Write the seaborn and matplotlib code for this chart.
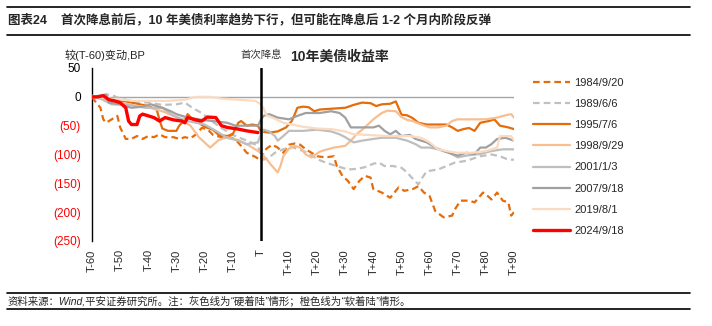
import matplotlib
matplotlib.use("Agg")
import matplotlib.pyplot as plt
import seaborn as sns
import pandas as pd
from matplotlib.lines import Line2D

sns.set_style("white")
plt.rcParams['font.family'] = ['Liberation Sans', 'Noto Sans CJK SC', 'DejaVu Sans']
plt.rcParams['axes.unicode_minus'] = False

# ---------------- data (BP change vs T-60) ----------------
t_1984 = [-60,-59,-57,-56,-55,-53,-51,-50,-48,-46,-44,-42,-40,-38,-36,-34,-31,-29,-27,-25,-23,-21,-19,-17,-14,-12,-9,-7,-5,-2,0,
          1,2,4,6,8,10,12,14,16,18,20,23,26,27,29,31,33,35,37,39,40,43,46,49,51,54,56,58,60,62,65,68,69,71,74,76,79,80,82,84,86,88,89,90]
v_1984 = [0,-7,-19,-39,-45,-39,-33,-53,-73,-73,-68,-73,-68,-70,-65,-70,-70,-73,-70,-72,-65,-54,-56,-66,-70,-68,-74,-85,-97,-104,-110,
          -97,-90,-83,-88,-97,-83,-81,-83,-91,-97,-103,-105,-103,-120,-137,-146,-160,-146,-137,-140,-160,-166,-175,-157,-163,-160,-155,-166,-172,-198,-209,-206,-195,-180,-180,-183,-166,-169,-178,-166,-180,-183,-206,-200]

t_1989 = [-60,-57,-55,-53,-50,-45,-40,-35,-30,-27,-24,-21,-18,-14,-10,-6,-3,-1,0,
          1,3,5,8,11,14,17,20,23,27,31,34,37,40,42,44,47,50,52,54,56,57,59,63,66,69,73,78,82,85,88,90]
v_1989 = [0,2,4,3,-3,-8,-10,-14,-13,-10,-20,-28,-40,-54,-66,-74,-80,-86,-100,
          -109,-105,-97,-91,-87,-92,-98,-108,-114,-120,-126,-125,-122,-116,-114,-120,-120,-123,-131,-142,-152,-143,-129,-126,-120,-114,-111,-103,-100,-103,-109,-109]

t_1995 = [-60,-56,-52,-48,-44,-40,-37,-36,-35,-33,-30,-29,-27,-26,-24,-22,-20,-17,-15,-12,-10,-8,-7,-5,-3,-1,0,
          3,6,9,11,12,13,15,17,19,21,24,27,30,33,36,39,41,43,46,48,50,52,54,56,59,63,66,68,70,72,74,76,78,81,83,85,88,90]
v_1995 = [0,-3,-5,-8,-12,-16,-22,-40,-55,-59,-59,-50,-40,-30,-40,-45,-52,-57,-66,-68,-65,-45,-42,-50,-48,-50,-60,
          -62,-60,-53,-42,-31,-19,-17,-18,-25,-22,-21,-20,-19,-14,-10,-11,-16,-13,-12,-8,-31,-32,-37,-45,-48,-48,-48,-53,-59,-56,-54,-59,-45,-42,-39,-50,-53,-56]

t_1998 = [-60,-55,-50,-45,-40,-35,-30,-25,-22,-18,-15,-12,-8,-4,0,
          2,4,6,7,8,10,12,14,16,18,21,23,26,30,32,34,37,40,43,45,48,50,52,54,57,60,63,66,68,70,75,80,84,87,89,90]
v_1998 = [0,-5,-10,-15,-18,-25,-35,-50,-70,-88,-75,-70,-75,-85,-97,
          -108,-120,-131,-120,-103,-90,-85,-88,-100,-105,-95,-92,-88,-85,-76,-65,-53,-39,-28,-24,-25,-35,-40,-42,-48,-53,-53,-50,-42,-39,-39,-39,-36,-32,-30,-36]

t_2001 = [-60,-57,-53,-47,-41,-35,-31,-26,-20,-16,-12,-8,-5,-1,0,
          1,3,5,6,8,10,15,20,25,28,30,33,36,40,43,48,52,55,57,60,63,67,70,73,78,82,86,90]
v_2001 = [0,-3,-13,-14,-19,-19,-33,-42,-48,-59,-71,-76,-82,-79,-65,
          -57,-60,-68,-76,-68,-59,-59,-57,-60,-65,-70,-79,-76,-73,-71,-71,-76,-82,-88,-88,-91,-97,-105,-102,-99,-94,-91,-91]

t_2007 = [-60,-57,-55,-54,-50,-46,-42,-39,-35,-32,-30,-26,-21,-17,-12,-9,-5,-1,0,
          1,3,6,10,13,16,21,25,28,30,32,35,40,42,44,46,48,50,53,55,59,62,65,68,70,73,76,78,80,82,84,87,90]
v_2007 = [0,2,4,-10,-13,-19,-17,-13,-19,-25,-30,-36,-40,-42,-45,-50,-50,-50,-40,
          -33,-30,-36,-39,-33,-28,-28,-25,-28,-36,-53,-53,-53,-50,-59,-65,-59,-68,-66,-73,-79,-88,-94,-99,-102,-97,-99,-88,-88,-82,-73,-71,-76]

t_2019 = [-60,-54,-45,-39,-33,-27,-23,-18,-14,-8,-2,0,
          1,2,5,8,11,15,20,25,30,33,38,45,50,53,57,60,63,67,70,75,80,84,85,89,90]
v_2019 = [2,-3,-7,-7,-7,-5,0,0,-3,-5,-7,-13,
          -20,-32,-38,-45,-48,-52,-55,-56,-60,-65,-66,-68,-68,-68,-71,-79,-91,-95,-97,-97,-94,-88,-68,-68,-76]

t_2024 = [-60,-58,-56,-54,-52,-50,-48,-47,-46,-44,-43,-42,-40,-38,-36,-34,-31,-28,-27,-26,-23,-21,-19,-16,-14,-12,-8,-5,-1]
v_2024 = [0,0,2,-5,-7,-10,-19,-42,-48,-48,-33,-30,-33,-36,-42,-36,-40,-42,-45,-36,-40,-42,-35,-36,-50,-53,-56,-59,-62]

series_names = ["1984/9/20", "1989/6/6", "1995/7/6", "1998/9/29", "2001/1/3", "2007/9/18", "2019/8/1", "2024/9/18"]
series_t = [t_1984, t_1989, t_1995, t_1998, t_2001, t_2007, t_2019, t_2024]
series_v = [v_1984, v_1989, v_1995, v_1998, v_2001, v_2007, v_2019, v_2024]

x_ticks = list(range(-60, 91, 10))
x_tick_labels = ["T" if v == 0 else (f"T+{v}" if v > 0 else f"T{v}") for v in x_ticks]
y_ticks = [-250, -200, -150, -100, -50, 0, 50]
y_tick_labels = ["(250)", "(200)", "(150)", "(100)", "(50)", "0", "50"]

# ---------------- styles ----------------
colors = ["#E46C0A", "#C0C0C0", "#E46C0A", "#F8BE90", "#BEBEBE", "#A0A0A0", "#FCDAC0", "#FF0000"]
styles = ["--", "--", "-", "-", "-", "-", "-", "-"]
widths = [1.6, 1.6, 1.6, 1.6, 1.6, 1.6, 1.6, 2.4]
DASH = (3.0, 1.8)

frames = []
for name, tt, vv in zip(series_names, series_t, series_v):
    frames.append(pd.DataFrame({"t": tt, "bp": vv, "series": name}))
df = pd.concat(frames, ignore_index=True)

fig = plt.figure(figsize=(7.12, 3.26), dpi=100)
ax = fig.add_axes([92/712, 1-241/326, (514-92)/712, (241-68)/326])

ax.axhline(0, color="#A6A6A6", lw=1.0, zorder=1)

handles = []
for name, c, ls, lw in zip(series_names, colors, styles, widths):
    sub = df[df["series"] == name]
    sns.lineplot(data=sub, x="t", y="bp", ax=ax, color=c, linewidth=lw, linestyle=ls,
                 estimator=None, sort=False, legend=False, zorder=3 if name != "2024/9/18" else 5)
    h = Line2D([0], [0], color=c, lw=lw, ls=ls)
    if ls == "--":
        h.set_dashes(DASH)
    handles.append(h)

for line in ax.get_lines()[1:]:
    if line.get_linestyle() == "--":
        line.set_dashes(DASH)

ax.axvline(0, color="black", lw=1.8, zorder=6)

ax.set_xlim(-60, 90)
ax.set_ylim(-250, 50)
ax.set_xlabel("")
ax.set_ylabel("")
ax.set_xticks(x_ticks)
ax.set_xticklabels(x_tick_labels, rotation=90, va="top", ha="center", fontsize=8)
ax.set_yticks(y_ticks)
ax.set_yticklabels(y_tick_labels, fontsize=8.5)
for lab, v in zip(ax.get_yticklabels(), y_ticks):
    lab.set_color("#FF0000" if v < 0 else "#000000")
ax.tick_params(axis="y", direction="in", length=3, width=0.8, pad=8, color="#000000")
ax.tick_params(axis="x", length=0, pad=6)
for s in ["top", "right", "bottom"]:
    ax.spines[s].set_visible(False)
ax.spines["left"].set_color("black")
ax.spines["left"].set_linewidth(1.0)
ax.patch.set_alpha(0)

# texts
fig.text(65/712, 1-55/326, "较(T-60)变动,BP", fontsize=8, va="center", ha="left")
fig.text(261/712, 1-55/326, "首次降息", fontsize=7.5, va="center", ha="center", color="#333333")
fig.text(290/712, 1-57/326, "10年美债收益率", fontsize=10, fontweight="bold", va="center", ha="left")

fig.legend(handles, series_names, loc="upper left", bbox_to_anchor=(533/712, 1-78/326),
           frameon=False, fontsize=8, handlelength=3.3, handletextpad=0.4,
           labelspacing=1.0, borderpad=0, borderaxespad=0)

# header & footer
fig.add_artist(Line2D([7/712, 690/712], [1-7/326, 1-7/326], color="black", lw=1.2))
fig.add_artist(Line2D([7/712, 690/712], [1-35/326, 1-35/326], color="black", lw=1.2))
fig.text(8/712, 1-20/326, "图表24    首次降息前后，10 年美债利率趋势下行，但可能在降息后 1-2 个月内阶段反弹",
         fontsize=9, fontweight="bold", va="center", ha="left")
fig.add_artist(Line2D([7/712, 690/712], [1-293/326, 1-293/326], color="black", lw=1.2))
fig.add_artist(Line2D([7/712, 690/712], [1-309/326, 1-309/326], color="black", lw=1.2))
fig.text(8/712, 1-301/326, "资料来源：Wind,平安证券研究所。注：灰色线为“硬着陆”情形；橙色线为“软着陆”情形。",
         fontsize=7.5, va="center", ha="left", style="italic")

fig.savefig("out.png", dpi=100)
